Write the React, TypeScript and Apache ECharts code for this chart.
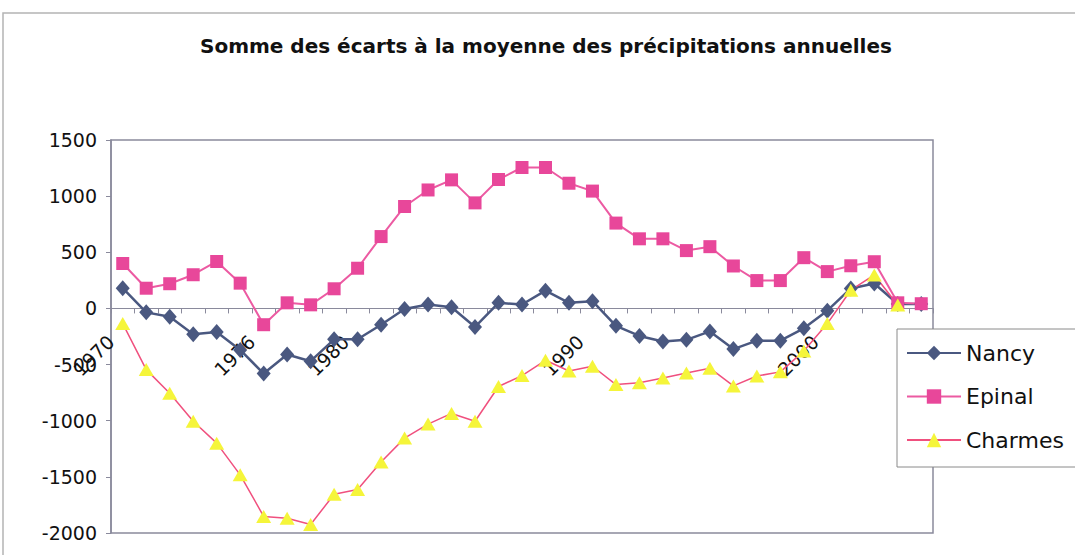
import React, { useEffect, useRef } from "react";
import * as echarts from "echarts";

const years = [
  "1970", "1971", "1972", "1973", "1974", "1975", "1976", "1977", "1978", "1979",
  "1980", "1981", "1982", "1983", "1984", "1985", "1986", "1987", "1988", "1989",
  "1990", "1991", "1992", "1993", "1994", "1995", "1996", "1997", "1998", "1999",
  "2000", "2001", "2002", "2003", "2004",
];
const shownYearLabels = ["1970", "1976", "1980", "1990", "2000"];

const nancy = [
  180, -35, -75, -230, -210, -370, -580, -410, -470, -275,
  -275, -145, -5, 35, 10, -165, 50, 35, 158, 50,
  65, -155, -245, -295, -280, -205, -362, -287, -287, -177,
  -20, 178, 222, 40, 40,
];
const epinal = [
  400, 180, 220, 300, 418, 225, -145, 50, 32, 175,
  358, 640, 908, 1055, 1145, 940, 1148, 1255, 1255, 1115,
  1045, 760, 620, 620, 515, 550, 378, 248, 248, 452,
  328, 380, 416, 50, 42,
];
const charmes = [
  -135, -545, -755, -1005, -1200, -1482, -1852, -1868, -1925, -1655,
  -1612, -1368, -1155, -1030, -935, -1005, -695, -598, -462, -557,
  -515, -678, -662, -620, -575, -532, -690, -602, -565, -380,
  -135, 162, 298, 30, null,
];

const Y_MIN = -2000;
const Y_MAX = 1500;

const FONT = "'DejaVu Sans', 'Liberation Sans', Arial, sans-serif";
const AXIS_COLOR = "#8a8a9c";

export default function App() {
  const ref = useRef<HTMLDivElement>(null);
  useEffect(() => {
    if (!ref.current) return;
    const chart = echarts.init(ref.current, null, { renderer: "svg" });
    const gridTop = 140;
    const gridBottom = 22;
    const gridHeight = 555 - gridTop - gridBottom;
    const zeroOffset = -(gridHeight * (0 - Y_MIN)) / (Y_MAX - Y_MIN);
    chart.setOption({
      animation: false,
      backgroundColor: "#ffffff",
      textStyle: { fontFamily: FONT },
      title: {
        text: "Somme des écarts à la moyenne des précipitations annuelles",
        left: 195,
        top: 31,
        textStyle: { fontFamily: FONT, fontSize: 20, fontWeight: "bold", color: "#111" },
      },
      graphic: [
        {
          type: "rect",
          shape: { x: 3, y: 13, width: 1120, height: 620 },
          style: { fill: "none", stroke: "#b4b4b4", lineWidth: 1.5 },
          silent: true,
        },
      ],
      grid: {
        left: 111,
        top: gridTop,
        right: 142,
        bottom: gridBottom,
        containLabel: false,
        outerBoundsMode: "none",
        show: true,
        borderColor: AXIS_COLOR,
        borderWidth: 1.5,
        backgroundColor: "transparent",
      },
      legend: {
        orient: "vertical",
        left: 897,
        top: 329,
        data: ["Nancy", "Epinal", "Charmes"],
        backgroundColor: "#ffffff",
        borderColor: "#8a8a8a",
        borderWidth: 1,
        padding: [13, 40, 16, 9],
        itemWidth: 54,
        itemHeight: 18,
        itemGap: 21.5,
        textStyle: { fontFamily: FONT, fontSize: 22, lineHeight: 22, color: "#111" },
        z: 10,
      },
      xAxis: {
        type: "category",
        data: years,
        boundaryGap: true,
        position: "bottom",
        offset: zeroOffset,
        axisLine: { onZero: false, lineStyle: { color: AXIS_COLOR, width: 1 } },
        axisTick: { show: true, interval: 0, length: 5, lineStyle: { color: AXIS_COLOR } },
        axisLabel: {
          interval: 0,
          rotate: 45,
          margin: 18,
          color: "#111",
          fontFamily: FONT,
          fontSize: 19,
          formatter: (v: string) => (shownYearLabels.includes(v) ? `{y|${v}}` : ""),
          rich: {
            y: { fontFamily: FONT, fontSize: 19, color: "#111", padding: [0, 17, 0, 0] },
          },
        },
        splitLine: { show: false },
      },
      yAxis: {
        type: "value",
        min: Y_MIN,
        max: Y_MAX,
        interval: 500,
        axisLine: { show: true, lineStyle: { color: AXIS_COLOR, width: 1.5 } },
        axisTick: { show: true, length: 5, lineStyle: { color: AXIS_COLOR } },
        axisLabel: {
          margin: 14,
          color: "#111",
          fontFamily: FONT,
          fontSize: 19,
          formatter: (v: number) => String(v),
        },
        splitLine: { show: false },
      },
      series: [
        {
          name: "Nancy",
          type: "line",
          data: nancy,
          symbol: "diamond",
          symbolSize: [14, 16],
          showAllSymbol: true,
          itemStyle: { color: "#4a5880" },
          lineStyle: { color: "#4a5880", width: 2.5 },
        },
        {
          name: "Epinal",
          type: "line",
          data: epinal,
          symbol: "rect",
          symbolSize: 13,
          showAllSymbol: true,
          itemStyle: { color: "#e8479a" },
          lineStyle: { color: "#ec5aa2", width: 2 },
        },
        {
          name: "Charmes",
          type: "line",
          data: charmes,
          symbol: "triangle",
          symbolSize: [15, 13],
          showAllSymbol: true,
          connectNulls: false,
          itemStyle: { color: "#f5f53a" },
          lineStyle: { color: "#f0507e", width: 1.5 },
        },
      ],
    });
    return () => chart.dispose();
  }, []);
  return (
    <div
      ref={ref}
      style={{ position: "fixed", left: 0, top: 0, width: 1075, height: 555 }}
    />
  );
}
